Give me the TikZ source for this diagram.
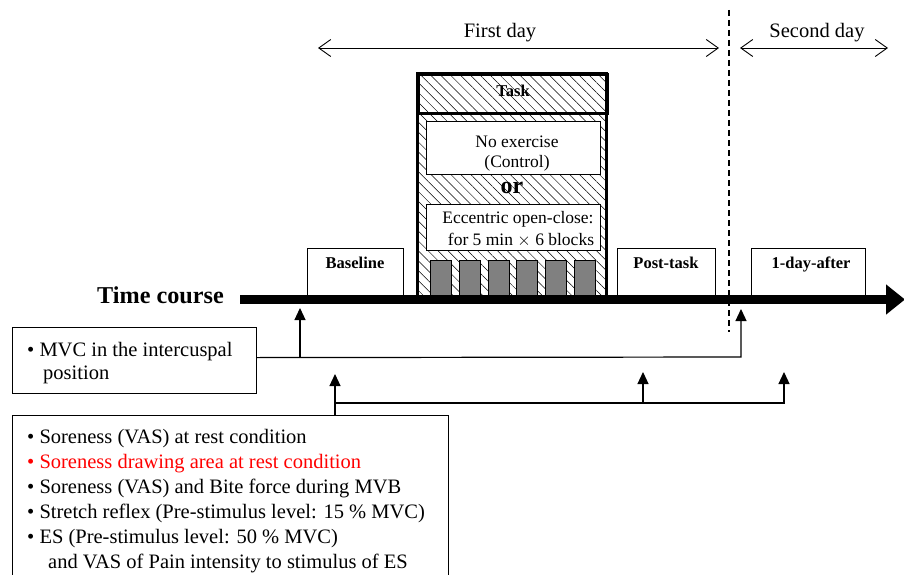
\documentclass[tikz,border=0pt]{standalone}
\usepackage{fontspec}
\setmainfont{Liberation Serif}
\usetikzlibrary{arrows.meta,patterns.meta}
\begin{document}
\begin{tikzpicture}[x=1pt,y=-1pt,
  box/.style={draw, line width=1.2pt, fill=white, inner sep=0pt, anchor=north west},
  tbox/.style={draw, line width=2.8pt, inner sep=0pt, anchor=north west},
  blk/.style={draw, line width=0.8pt, fill=black!50, inner sep=0pt, anchor=north west, minimum width=21pt, minimum height=35pt},
  hatch/.style={pattern={Lines[angle=-45,distance=7pt,line width=0.5pt]}},
  lblb/.style={font=\fontsize{16.5}{19}\selectfont\bfseries, anchor=base, inner sep=0pt},
  smalltxt/.style={font=\fontsize{17.5}{20}\selectfont, anchor=base, inner sep=0pt},
  body/.style={font=\fontsize{20.5}{25}\selectfont, anchor=base west, inner sep=0pt},
  conn/.style={line width=1.2pt},
  tri/.style={-{Triangle[length=12pt,width=11pt]}},
  barb/.style={{Straight Barb[length=12pt,width=17pt,line width=0.9pt]}-{Straight Barb[length=12pt,width=17pt,line width=0.9pt]}, line width=0.9pt}
]
\useasboundingbox (0,0) rectangle (904,575);
\clip (0,0) rectangle (904,575);

% day arrows
\coordinate (fd1) at (318,48);
\coordinate (fd2) at (719,48);
\coordinate (sd1) at (740,48);
\coordinate (sd2) at (888,48);
\draw[barb] (fd1) -- (fd2);
\draw[barb] (sd1) -- (sd2);
\node[body, anchor=base] (firstday) at (500,38) {First day};
\node[body, anchor=base] (secondday) at (817,38) {Second day};

% dashed day separator
\coordinate (ds1) at (729,10);
\coordinate (ds2) at (729,332);
\draw[line width=1.3pt, dash pattern=on 6pt off 4pt] (ds1) -- (ds2);

% task box
\node[tbox, hatch, minimum width=189pt, minimum height=224pt] (task) at (417,73) {};
\node[tbox, minimum width=189pt, minimum height=39pt] (taskhead) at (417,73) {};
\node[lblb] (tasklbl) at (513,97) {Task};

\node[box, minimum width=174pt, minimum height=53pt] (noex) at (426,121) {};
\node[smalltxt] (noex1) at (517,147) {No exercise};
\node[smalltxt] (noex2) at (517,167) {(Control)};

\node[font=\fontsize{24}{26}\selectfont\bfseries, anchor=base, inner sep=0pt] (or) at (512,193) {or};

\node[box, minimum width=174pt, minimum height=46pt] (ecc) at (426,204) {};
\node[smalltxt] (ecc1) at (518,223) {Eccentric open-close:};
\node[smalltxt] (ecc2) at (521,245) {for 5 min $\times$ 6 blocks};

\foreach \i/\x in {1/430,2/458.8,3/487.6,4/516.4,5/545.2,6/574}{
  \node[blk] (blk\i) at (\x,260) {};
}

% stage boxes
\node[box, minimum width=96pt, minimum height=47pt] (base) at (307,248) {};
\node[lblb] (baselbl) at (355,268) {Baseline};
\node[box, minimum width=98pt, minimum height=47pt] (post) at (617,248) {};
\node[lblb] (postlbl) at (666,268) {Post-task};
\node[box, minimum width=114pt, minimum height=47pt] (day1) at (751,248) {};
\node[lblb] (day1lbl) at (811,268) {1-day-after};

% time axis
\node[font=\fontsize{24.2}{27}\selectfont\bfseries, anchor=base west, inner sep=0pt] (tc) at (97,303) {Time course};
\coordinate (ax1) at (240,299.5);
\coordinate (ax2) at (905,299.5);
\draw[line width=9pt, -{Triangle[length=19pt,width=29pt]}] (ax1) -- (ax2);

% MVC box and connectors
\node[box, minimum width=244pt, minimum height=66pt] (mvc) at (12,327) {};
\node[body] (mvc1) at (27,356) {\textbullet\ MVC in the intercuspal};
\node[body] (mvc2) at (43,379) {position};
\coordinate (m1) at (300,357);
\coordinate (m1t) at (300,308);
\coordinate (m2) at (741,357);
\coordinate (m2t) at (741,309);
\draw[conn, tri] ([yshift=3pt]mvc.east) -- (m2) -- (m2t);
\draw[conn, tri] (m1) -- (m1t);

% measurement box and connectors
\node[box, minimum width=436pt, minimum height=200pt] (meas) at (12,415) {};
\node[body] (l1) at (27,443) {\textbullet\ Soreness (VAS) at rest condition};
\node[body, text=red] (l2) at (27,468) {\textbullet\ Soreness drawing area at rest condition};
\node[body] (l3) at (27,493) {\textbullet\ Soreness (VAS) and Bite force during MVB};
\node[body] (l4) at (27,518) {\textbullet\ Stretch reflex (Pre-stimulus level: 15 \% MVC)};
\node[body] (l5) at (27,543) {\textbullet\ ES (Pre-stimulus level: 50 \% MVC)};
\node[body] (l6) at (48,568) {and VAS of Pain intensity to stimulus of ES};
\coordinate (b1) at (335,403);
\coordinate (b1t) at (335,374);
\coordinate (b2) at (643,403);
\coordinate (b2t) at (643,372);
\coordinate (b3) at (784,403);
\coordinate (b3t) at (784,372);
\draw[conn, tri] (meas.north -| b1) -- (b1t);
\draw[conn, tri] (b1) -- (b3) -- (b3t);
\draw[conn, tri] (b2) -- (b2t);
\end{tikzpicture}
\end{document}
